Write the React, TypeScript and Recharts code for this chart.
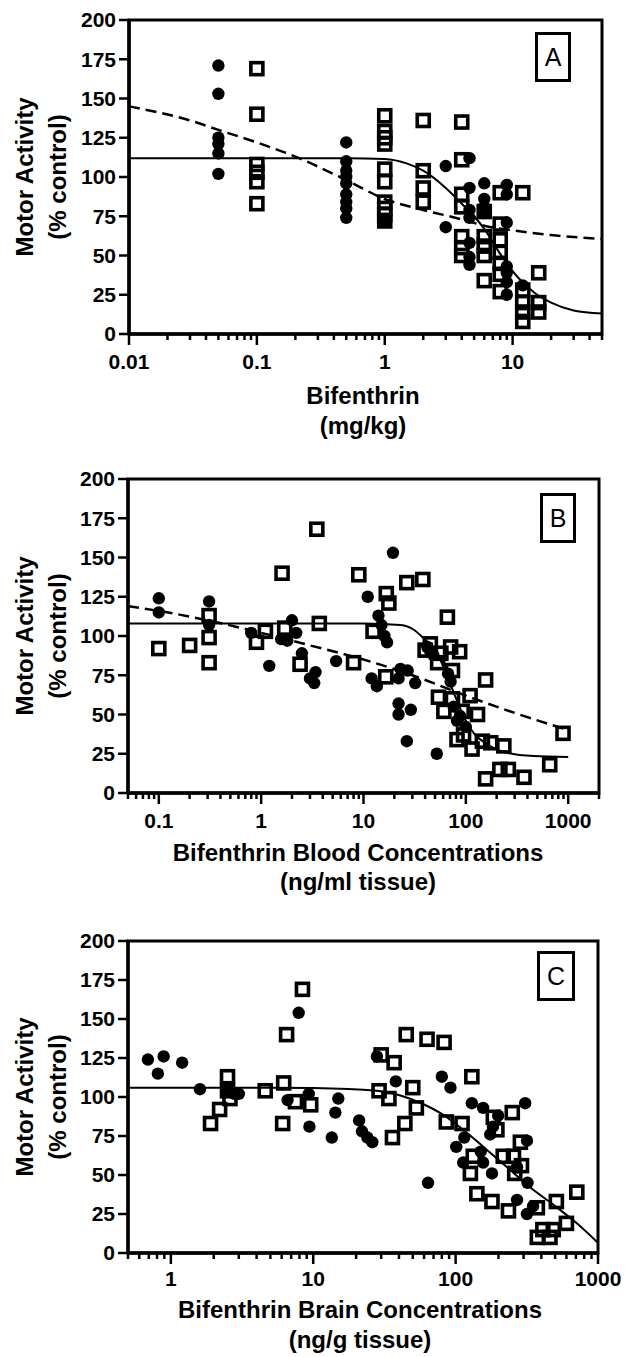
import React from 'react';
import { ComposedChart, XAxis, YAxis, Scatter, Line, ReferenceArea } from 'recharts';

const FONT = '"Liberation Sans", Arial, Helvetica, sans-serif';

// ---------- shared ----------
const yTicks = [0, 25, 50, 75, 100, 125, 150, 175, 200];
const yTitle = ['Motor Activity', '(% control)'];

// ---------- Panel A : dose (mg/kg) ----------
const aLetter = 'A';
const aXTitle = ['Bifenthrin', '(mg/kg)'];
const aXDomain = [0.01, 50];
const aXMajor = [0.01, 0.1, 1, 10];
const aCircles: number[][] = [
  [0.05, 171], [0.05, 153], [0.05, 125], [0.05, 121], [0.05, 115], [0.05, 102],
  [0.5, 122], [0.5, 110], [0.5, 104], [0.5, 100], [0.5, 96], [0.5, 89], [0.5, 84], [0.5, 80], [0.5, 74],
  [1, 72], [3, 107], [3, 68],
  [4.6, 112], [4.6, 93], [4.6, 79], [4.6, 74], [4.6, 58], [4.6, 49], [4.6, 44],
  [6, 96], [6, 86], [6, 81], [6, 77],
  [9, 95], [9, 89], [9, 71], [9, 43], [9, 39], [9, 33], [9, 25],
  [12, 31],
];
const aSquares: number[][] = [
  [0.1, 169], [0.1, 140], [0.1, 108], [0.1, 103], [0.1, 97], [0.1, 83],
  [1, 139], [1, 129], [1, 125], [1, 121], [1, 105], [1, 97], [1, 84], [1, 80], [1, 76], [1, 72],
  [2, 136], [2, 104], [2, 93], [2, 84],
  [4, 135], [4, 111], [4, 89], [4, 81], [4, 62], [4, 55], [4, 50],
  [6, 78], [6, 62], [6, 56], [6, 50], [6, 34],
  [8, 90], [8, 70], [8, 60], [8, 52], [8, 45], [8, 38], [8, 27],
  [12, 90], [12, 28], [12, 20], [12, 14], [12, 8],
  [16, 39], [16, 20], [16, 14],
];
const aSolidFit: number[][] = [
  [0.01, 112], [0.1, 112], [0.5, 112], [1, 111.5], [1.5, 108.5], [2, 104], [3, 93], [4, 83],
  [5, 75], [6, 67], [8, 51], [10, 40], [15, 26], [20, 20], [30, 15], [50, 13],
];
const aDashedFit: number[][] = [
  [0.01, 145], [0.03, 136], [0.05, 130], [0.1, 122], [0.2, 113], [0.5, 98], [1, 86],
  [2, 79], [4, 73], [6, 69], [10, 66], [20, 63], [50, 60.5],
];

// ---------- Panel B : blood (ng/ml) ----------
const bLetter = 'B';
const bXTitle = ['Bifenthrin Blood Concentrations', '(ng/ml tissue)'];
const bXDomain = [0.05, 2000];
const bXMajor = [0.1, 1, 10, 100, 1000];
const bCircles: number[][] = [
  [0.1, 124], [0.1, 115], [0.31, 122], [0.31, 107], [0.8, 102], [1.2, 81], [1.57, 98], [1.8, 97],
  [2.0, 110], [2.2, 102], [2.5, 89], [3.0, 73], [3.3, 70], [3.4, 77],
  [5.4, 84], [11, 125], [12, 73], [13.5, 68], [14, 113], [15, 107], [16, 100], [17, 96], [19.4, 153],
  [22, 73], [22, 57], [22, 50], [23, 79], [26.5, 33], [27, 78], [29, 53], [32, 70],
  [42, 93], [45, 90], [48, 88], [52, 25], [67, 76], [71, 71], [76, 55], [82, 46], [88, 49], [100, 42],
];
const bSquares: number[][] = [
  [0.1, 92], [0.2, 94], [0.31, 113], [0.31, 99], [0.31, 83], [0.9, 96], [1.1, 103], [1.6, 140],
  [1.7, 105], [2.4, 82], [3.5, 168], [3.7, 108],
  [8, 83], [9, 139], [12.4, 103], [16.7, 127], [17.7, 121], [16.5, 74], [26.5, 134], [38, 136],
  [40, 91], [45, 95], [53, 83], [54, 61], [57, 89], [61, 52], [66, 112], [71, 93], [74, 78], [74, 60],
  [82, 34], [87, 90], [92, 52], [95, 37], [110, 62], [115, 28], [130, 50], [145, 33], [156, 72],
  [156, 9], [175, 32], [215, 15], [235, 30], [260, 15], [370, 10], [660, 18], [890, 38],
];
const bSolidFit: number[][] = [
  [0.05, 108], [1, 108], [10, 108], [23, 107], [31, 104], [38, 99], [48.5, 92], [61, 80], [76, 64],
  [95, 49], [120, 38], [162, 31], [255, 25.5], [460, 23.5], [1000, 23],
];
const bDashedFit: number[][] = [
  [0.05, 119], [0.1, 116], [0.3, 110], [1, 102], [3, 94], [10, 85], [30, 75], [100, 62],
  [300, 51], [900, 41],
];

// ---------- Panel C : brain (ng/g) ----------
const cLetter = 'C';
const cXTitle = ['Bifenthrin Brain Concentrations', '(ng/g tissue)'];
const cXDomain = [0.5, 1000];
const cXMajor = [1, 10, 100, 1000];
const cCircles: number[][] = [
  [0.69, 124], [0.81, 115], [0.89, 126], [1.2, 122], [1.6, 105], [2.5, 104], [2.8, 102], [3.0, 102],
  [6.6, 98], [7.9, 154], [9.3, 102], [9.4, 81], [13.5, 74],
  [15, 99], [14.3, 90], [21, 85], [22, 78], [24, 74], [26, 71], [28, 126], [38, 110], [64, 45],
  [80, 113], [92, 106], [101, 68], [113, 58], [115, 74], [130, 96], [150, 65], [156, 93], [156, 58],
  [175, 76], [180, 51], [183, 81], [199, 88], [270, 55], [270, 34], [308, 96], [317, 72], [317, 25],
  [320, 45], [350, 30],
];
const cSquares: number[][] = [
  [1.9, 83], [2.2, 92], [2.5, 113], [2.5, 104], [2.6, 99], [4.6, 104], [6.1, 83], [6.2, 109],
  [6.5, 140], [8.4, 169], [7.5, 97], [9.6, 95],
  [29, 104], [30, 127], [34, 99], [36, 74], [37, 122], [44, 83], [45, 140], [50, 106], [53, 93],
  [63, 137], [83, 135], [86, 84], [111, 83], [127, 51], [130, 113], [133, 62], [141, 38], [180, 33],
  [184, 87], [195, 79], [216, 62], [235, 27], [250, 90], [255, 62], [260, 51], [285, 71], [290, 56],
  [375, 29], [375, 10], [410, 15], [460, 10], [485, 15], [510, 33], [600, 19], [710, 39],
];
const cSolidFit: number[][] = [
  [0.5, 106], [5, 106], [10, 105.8], [28, 104], [41, 101], [59, 95.5], [82, 88.5], [113, 79],
  [157, 68], [230, 55], [335, 42], [485, 31], [710, 19], [1000, 6.5],
];

// ---------- helpers ----------
const toXY = (arr: number[][]) => arr.map(([x, y]) => ({ x, y }));

function logTicks(domain: number[]) {
  const out: number[] = [];
  const e0 = Math.floor(Math.log10(domain[0]) + 1e-9);
  const e1 = Math.ceil(Math.log10(domain[1]) - 1e-9);
  for (let e = e0; e <= e1; e++) {
    for (let m = 1; m <= 9; m++) {
      const v = parseFloat((m * Math.pow(10, e)).toPrecision(6));
      if (v >= domain[0] * 0.9999 && v <= domain[1] * 1.0001) out.push(v);
    }
  }
  return out;
}

const CircleShape = (p: any) => <circle cx={p.cx} cy={p.cy} r={6.2} fill="#000" />;
const SquareShape = (p: any) => (
  <rect x={p.cx - 6} y={p.cy - 6} width={12} height={12} fill="none" stroke="#000" strokeWidth={3.6} />
);

function LogTick(props: any) {
  const { x, y, payload, majors, labelDy } = props;
  const v = payload.value;
  const isMajor = majors.some((m: number) => Math.abs(m - v) / m < 1e-6);
  return (
    <g>
      <line x1={x} x2={x} y1={y} y2={y + (isMajor ? 11 : 6)} stroke="#000" strokeWidth={2.5} />
      {isMajor && (
        <text x={x} y={y + labelDy} textAnchor="middle" fontFamily={FONT} fontWeight="bold" fontSize={21} fill="#000">
          {String(v)}
        </text>
      )}
    </g>
  );
}

type PanelProps = {
  top: number;
  height: number;
  margin: { top: number; right: number; left: number; bottom: number };
  domain: number[];
  majors: number[];
  circles: number[][];
  squares: number[][];
  solid: number[][];
  dashed?: number[][];
  labelDy: number;
};

function Panel(p: PanelProps) {
  return (
    <div style={{ position: 'absolute', left: 0, top: p.top }}>
      <ComposedChart width={626} height={p.height} margin={p.margin}>
        <XAxis
          dataKey="x"
          type="number"
          scale="log"
          domain={p.domain}
          allowDataOverflow
          ticks={logTicks(p.domain)}
          interval={0}
          tickSize={0}
          tickMargin={0}
          tickLine={false}
          height={30}
          axisLine={{ stroke: '#000', strokeWidth: 3.5 }}
          tick={(tp: any) => <LogTick {...tp} majors={p.majors} labelDy={p.labelDy} />}
        />
        <YAxis
          dataKey="y"
          type="number"
          domain={[0, 200]}
          allowDataOverflow
          ticks={yTicks}
          interval={0}
          width={60}
          tickSize={10}
          tickMargin={3}
          tickLine={{ stroke: '#000', strokeWidth: 2.5 }}
          axisLine={{ stroke: '#000', strokeWidth: 3.5 }}
          tick={{ fontSize: 21, fontWeight: 'bold', fill: '#000', fontFamily: FONT }}
        />
        <ReferenceArea
          x1={p.domain[0]}
          x2={p.domain[1]}
          y1={0}
          y2={200}
          fill="none"
          fillOpacity={0}
          stroke="#000"
          strokeWidth={3}
          ifOverflow="visible"
        />
        <Line
          data={toXY(p.solid)}
          dataKey="y"
          type="monotone"
          dot={false}
          stroke="#000"
          strokeWidth={2}
          isAnimationActive={false}
        />
        {p.dashed && (
          <Line
            data={toXY(p.dashed)}
            dataKey="y"
            type="monotone"
            dot={false}
            stroke="#000"
            strokeWidth={2.5}
            strokeDasharray="11 6"
            isAnimationActive={false}
          />
        )}
        <Scatter data={toXY(p.circles)} shape={CircleShape} isAnimationActive={false} />
        <Scatter data={toXY(p.squares)} shape={SquareShape} isAnimationActive={false} />
      </ComposedChart>
    </div>
  );
}

const textBase: React.CSSProperties = {
  position: 'absolute',
  fontFamily: FONT,
  fontWeight: 'bold',
  fontSize: 24,
  lineHeight: 1,
  whiteSpace: 'nowrap',
  color: '#000',
};

function HLabel({ x, y, text }: { x: number; y: number; text: string }) {
  return <div style={{ ...textBase, left: x, top: y, transform: 'translate(-50%, -50%)' }}>{text}</div>;
}
function VLabel({ x, y, text }: { x: number; y: number; text: string }) {
  return (
    <div style={{ ...textBase, left: x, top: y, transform: 'translate(-50%, -50%) rotate(-90deg)' }}>{text}</div>
  );
}
function LetterBox({ x, y, w, h, letter }: { x: number; y: number; w: number; h: number; letter: string }) {
  return (
    <div
      style={{
        position: 'absolute',
        left: x,
        top: y,
        width: w,
        height: h,
        boxSizing: 'border-box',
        border: '3px solid #000',
        background: '#fff',
        display: 'flex',
        alignItems: 'center',
        justifyContent: 'center',
        fontFamily: FONT,
        fontSize: 25,
        color: '#000',
      }}
    >
      {letter}
    </div>
  );
}

export default function App() {
  return (
    <div style={{ position: 'absolute', left: 0, top: 0, width: 626, height: 1357, background: '#fff' }}>
      <Panel
        top={0}
        height={440}
        margin={{ top: 20, right: 24, left: 69, bottom: 76 }}
        domain={aXDomain}
        majors={aXMajor}
        circles={aCircles}
        squares={aSquares}
        solid={aSolidFit}
        dashed={aDashedFit}
        labelDy={35}
      />
      <Panel
        top={440}
        height={440}
        margin={{ top: 39, right: 27, left: 68, bottom: 57 }}
        domain={bXDomain}
        majors={bXMajor}
        circles={bCircles}
        squares={bSquares}
        solid={bSolidFit}
        dashed={bDashedFit}
        labelDy={35}
      />
      <Panel
        top={880}
        height={477}
        margin={{ top: 61, right: 28, left: 68, bottom: 74 }}
        domain={cXDomain}
        majors={cXMajor}
        circles={cCircles}
        squares={cSquares}
        solid={cSolidFit}
        labelDy={33}
      />

      <VLabel x={25} y={177} text={yTitle[0]} />
      <VLabel x={58} y={177} text={yTitle[1]} />
      <VLabel x={25} y={636} text={yTitle[0]} />
      <VLabel x={58} y={636} text={yTitle[1]} />
      <VLabel x={25} y={1097} text={yTitle[0]} />
      <VLabel x={58} y={1097} text={yTitle[1]} />

      <HLabel x={363} y={396} text={aXTitle[0]} />
      <HLabel x={363} y={426} text={aXTitle[1]} />
      <HLabel x={358} y={853} text={bXTitle[0]} />
      <HLabel x={358} y={882} text={bXTitle[1]} />
      <HLabel x={360} y={1310} text={cXTitle[0]} />
      <HLabel x={360} y={1340} text={cXTitle[1]} />

      <LetterBox x={535} y={32} w={36} h={50} letter={aLetter} />
      <LetterBox x={540} y={493} w={36} h={50} letter={bLetter} />
      <LetterBox x={537} y={951} w={38} h={50} letter={cLetter} />
    </div>
  );
}
